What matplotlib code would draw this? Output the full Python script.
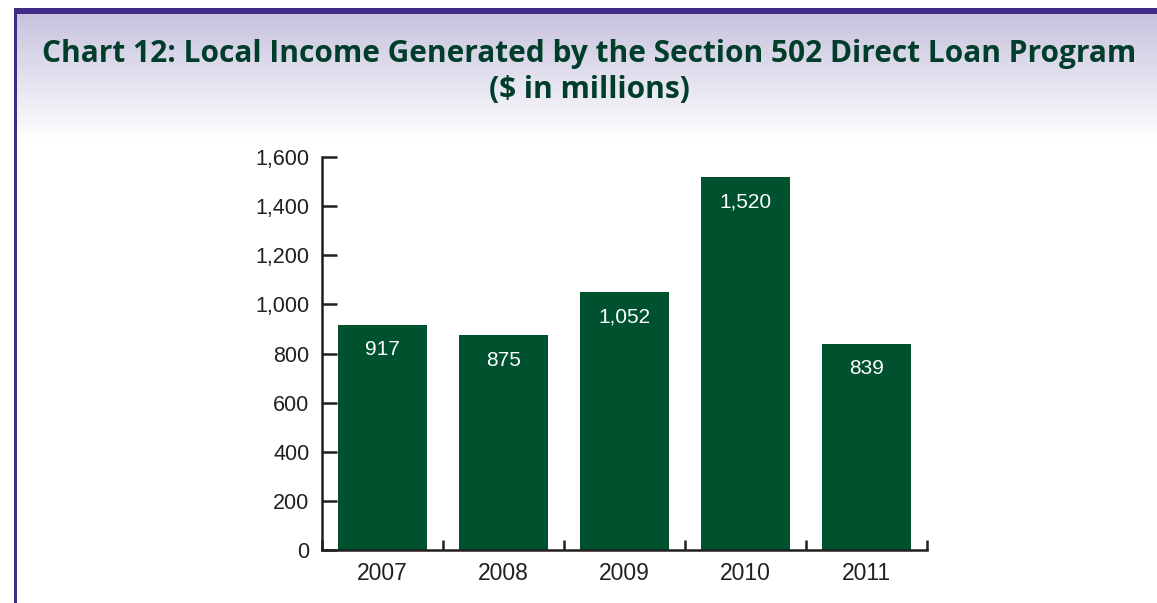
import matplotlib
matplotlib.use("Agg")
import matplotlib.pyplot as plt
import numpy as np
from matplotlib.patches import Rectangle

years = ["2007", "2008", "2009", "2010", "2011"]
values = [917, 875, 1052, 1520, 839]
value_labels = ["917", "875", "1,052", "1,520", "839"]
yticks = [0, 200, 400, 600, 800, 1000, 1200, 1400, 1600]
ytick_labels = ["0", "200", "400", "600", "800", "1,000", "1,200", "1,400", "1,600"]
title = "Chart 12: Local Income Generated by the Section 502 Direct Loan Program\n($ in millions)"

W, H = 1157, 603
fig = plt.figure(figsize=(W / 100, H / 100), dpi=100)
fig.patch.set_facecolor("white")

# header gradient
bg = fig.add_axes([14 / W, 1 - 140 / H, 1 - 14 / W, 126 / H])
bg.axis("off")
grad = np.linspace(0, 1, 256).reshape(-1, 1)
top = np.array([0.78, 0.765, 0.87])
bot = np.array([1.0, 1.0, 1.0])
img = top[None, None, :] * (1 - grad[:, :, None]) + bot[None, None, :] * grad[:, :, None]
bg.imshow(img, aspect="auto", extent=[0, 1, 0, 1], origin="upper")
bg.set_xlim(0, 1)
bg.set_ylim(0, 1)

# border
border = "#3d2b85"
fig.patches.append(Rectangle((14 / W, 1 - 14 / H), 1 - 14 / W, 6 / H, transform=fig.transFigure,
                             facecolor=border, edgecolor="none", zorder=5))
fig.patches.append(Rectangle((14 / W, 0), 3 / W, 1 - 8 / H, transform=fig.transFigure,
                             facecolor=border, edgecolor="none", zorder=5))

fig.text(589 / W, 1 - 72 / H, title, ha="center", va="center", fontsize=21.5,
         fontweight="bold", family="Open Sans", color="#003d2a", linespacing=1.27)

ax = fig.add_axes([322 / W, 53 / H, 605 / W, 393 / H])
x = np.arange(len(years))
bars = ax.bar(x, values, width=0.73, color="#00522e", zorder=2)
ax.set_xlim(-0.5, len(years) - 0.5)
ax.set_ylim(0, 1600)

for xi, v, lab in zip(x, values, value_labels):
    ax.annotate(lab, (xi, v), xytext=(0, -18), textcoords="offset points",
                ha="center", va="center", color="white", fontsize=15, family="Liberation Sans")

for s in ["top", "right"]:
    ax.spines[s].set_visible(False)
for s in ["left", "bottom"]:
    ax.spines[s].set_color("#231f20")
    ax.spines[s].set_linewidth(1.8)

ax.set_yticks(yticks)
ax.set_yticklabels(ytick_labels, family="Liberation Sans", fontsize=15.5, color="#231f20")
ax.tick_params(axis="y", direction="in", length=11, width=1.8, color="#231f20", pad=9)

ax.set_xticks(x)
ax.set_xticklabels(years, family="Liberation Sans", fontsize=16.5, color="#231f20")
ax.tick_params(axis="x", length=0, pad=9)
ax.set_xticks(np.arange(len(years) + 1) - 0.5, minor=True)
ax.tick_params(axis="x", which="minor", direction="in", length=7, width=1.8, color="#231f20")

fig.savefig("out.png", dpi=100)
